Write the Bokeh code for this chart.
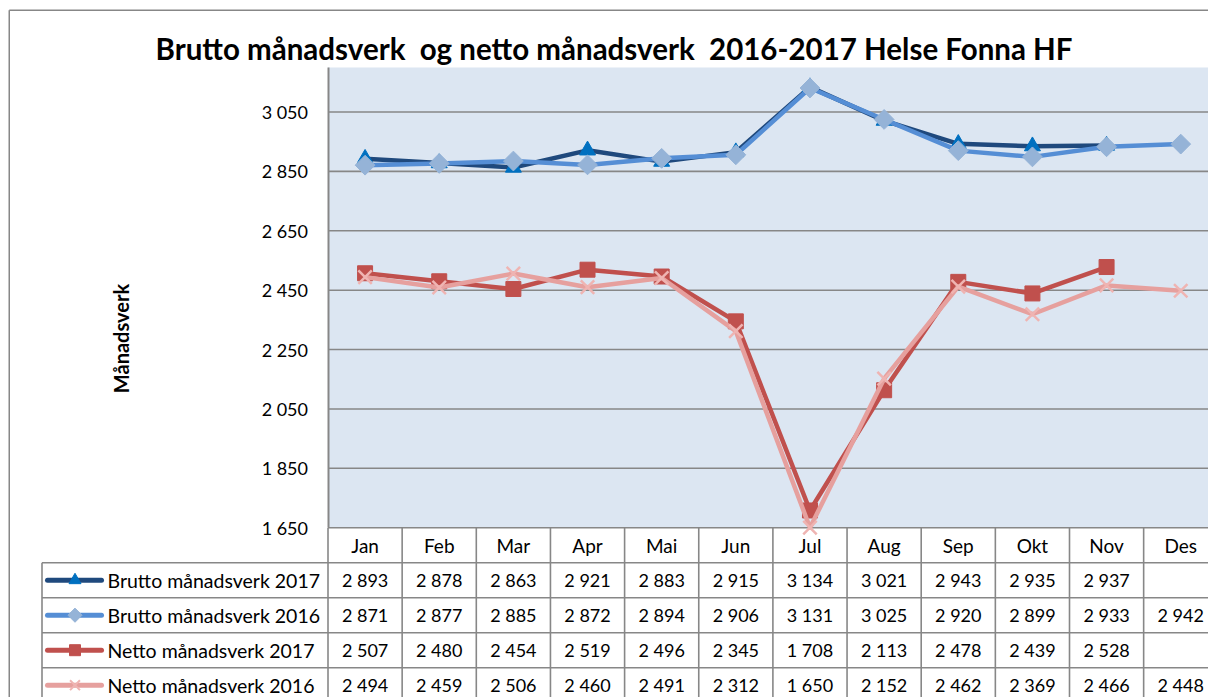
import math
import numpy as np
from bokeh.plotting import figure
from bokeh.models import Range1d, FixedTicker, LinearAxis
from bokeh.core.properties import value
from bokeh.embed import file_html
from bokeh.resources import INLINE

# ---------------- data ----------------
months = ["Jan", "Feb", "Mar", "Apr", "Mai", "Jun", "Jul", "Aug", "Sep", "Okt", "Nov", "Des"]
brutto_2017 = [2893, 2878, 2863, 2921, 2883, 2915, 3134, 3021, 2943, 2935, 2937, None]
brutto_2016 = [2871, 2877, 2885, 2872, 2894, 2906, 3131, 3025, 2920, 2899, 2933, 2942]
netto_2017 = [2507, 2480, 2454, 2519, 2496, 2345, 1708, 2113, 2478, 2439, 2528, None]
netto_2016 = [2494, 2459, 2506, 2460, 2491, 2312, 1650, 2152, 2462, 2369, 2466, 2448]
series_names = ["Brutto månadsverk 2017", "Brutto månadsverk 2016",
                "Netto månadsverk 2017", "Netto månadsverk 2016"]
y_ticks = [1650, 1850, 2050, 2250, 2450, 2650, 2850, 3050]
y_min, y_max = 1650, 3200
# double spaces kept visible in SVG with a no-break space
title_text = "Brutto månadsverk \u00a0og netto månadsverk \u00a02016-2017 Helse Fonna HF"
y_title = "Månadsverk"

# ---------------- layout / styles ----------------
FONT = "Lato"
GRAY = "#878787"
W, H = 1208, 697
PLOT_LEFT = 327.5      # page x of plot-area left edge
PLOT_TOP = 67.0        # page y of value y_max
PLOT_BOT = 527.2       # page y of value y_min
CW = 74.15             # width of one month column
RH = 35.0              # table row height
TABLE_LEFT = 41.5      # left edge of legend column

styles = [
    dict(line="#1F497D", marker="triangle", mfill="#0070C0", msize=16, angle=0.0),
    dict(line="#558ED5", marker="square", mfill="#95B3D7", msize=14, angle=math.pi / 4),
    dict(line="#C0504D", marker="square", mfill="#C0504D", msize=15, angle=0.0),
    dict(line="#E6A09E", marker="x", mfill="#EFB4B2", msize=19, angle=0.0),
]
series = [brutto_2017, brutto_2016, netto_2017, netto_2016]


def fmt(v):
    return "" if v is None else f"{v:,}".replace(",", " ")


k = (PLOT_BOT - PLOT_TOP) / (y_max - y_min)          # px per value unit
x_start = -PLOT_LEFT / CW
x_end = (W - PLOT_LEFT) / CW
y_start = y_min - (H - PLOT_BOT) / k
y_end = y_max + PLOT_TOP / k

p = figure(width=W, height=H, x_range=Range1d(x_start, x_end), y_range=Range1d(y_start, y_end),
           output_backend="svg", toolbar_location=None, x_axis_location=None,
           y_axis_location=None, min_border=0, outline_line_color=None,
           background_fill_color="white", border_fill_color="white")
p.extra_x_ranges = {"px": Range1d(0, W)}
p.extra_y_ranges = {"px": Range1d(H, 0)}
p.grid.visible = False

x_pos = [i + 0.5 for i in range(len(months))]

# plot area background
p.quad(left=[0], right=[x_end], bottom=[y_min], top=[y_max], fill_color="#DCE6F2",
       line_color=None)
# horizontal gridlines at the ticks
p.segment(x0=[0] * len(y_ticks), x1=[x_end] * len(y_ticks), y0=y_ticks, y1=y_ticks,
          line_color=GRAY, line_width=1.6)

# y axis
ax = LinearAxis(fixed_location=0, ticker=FixedTicker(ticks=y_ticks), bounds=(y_min, y_max))
ax.major_label_overrides = {t: fmt(t) for t in y_ticks}
ax.major_tick_in = 0
ax.major_tick_out = 0
ax.minor_tick_line_color = None
ax.axis_line_color = GRAY
ax.axis_line_width = 2
ax.major_label_standoff = 20
ax.major_label_text_font = FONT
ax.major_label_text_font_size = "18px"
ax.major_label_text_color = "black"
p.add_layout(ax, "left")

# series
for vals, st in zip(series, styles):
    yv = [np.nan if v is None else v for v in vals]
    p.line(x_pos, yv, line_color=st["line"], line_width=4.5, line_join="round")
    xs = [x for x, v in zip(x_pos, vals) if v is not None]
    ys = [v for v in vals if v is not None]
    if st["marker"] == "x":
        p.scatter(xs, ys, marker="x", size=st["msize"], line_color=st["mfill"], line_width=2.5)
    else:
        p.scatter(xs, ys, marker=st["marker"], size=st["msize"], angle=st["angle"],
                  fill_color=st["mfill"], line_color=st["mfill"])

# title and axis title
p.text(x=[613.5], y=[48], text=[title_text], x_range_name="px", y_range_name="px",
       text_align="center", text_baseline="middle", text_font=value(FONT),
       text_font_style="bold", text_font_size="29.5px", text_color="black")
p.text(x=[120], y=[338], text=[y_title], x_range_name="px", y_range_name="px",
       angle=math.pi / 2, text_align="center", text_baseline="middle",
       text_font=value(FONT), text_font_style="bold", text_font_size="20px",
       text_color="black")

# outer chart border
p.segment(x0=[8.75, 8.75], y0=[9.75, 9.75], x1=[8.75, W], y1=[H, 9.75],
          x_range_name="px", y_range_name="px", line_color=GRAY, line_width=1.5)

# ---------------- data table ----------------
row_lines = [PLOT_BOT + RH * (i + 1) for i in range(4)]
left_x = (TABLE_LEFT - PLOT_LEFT) / CW
# horizontal row lines (y in page px)
p.segment(x0=[left_x] * 4, x1=[x_end] * 4, y0=row_lines, y1=row_lines, y_range_name="px",
          line_color=GRAY, line_width=1.6)
# vertical column lines
p.segment(x0=list(range(13)), x1=list(range(13)), y0=[PLOT_BOT] * 13, y1=[H] * 13,
          y_range_name="px", line_color=GRAY, line_width=1.6)
p.segment(x0=[left_x], x1=[left_x], y0=[row_lines[0]], y1=[H], y_range_name="px",
          line_color=GRAY, line_width=1.6)

# header
p.text(x=x_pos, y=[(PLOT_BOT + row_lines[0]) / 2] * 12, text=months, y_range_name="px",
       text_align="center", text_baseline="middle", text_font=value(FONT),
       text_font_size="19px", text_color="black")

for i, (vals, st, name) in enumerate(zip(series, styles, series_names)):
    yc = row_lines[0] + RH * (i + 0.5)
    p.text(x=x_pos, y=[yc] * 12, text=[fmt(v) for v in vals], y_range_name="px",
           text_align="center", text_baseline="middle", text_font=value(FONT),
           text_font_size="18px", text_color="black")
    p.segment(x0=[47], x1=[101], y0=[yc], y1=[yc], x_range_name="px", y_range_name="px",
              line_color=st["line"], line_width=5, line_cap="round")
    if st["marker"] == "x":
        p.scatter([74.5], [yc], x_range_name="px", y_range_name="px", marker="x",
                  size=st["msize"] - 5, line_color=st["mfill"], line_width=2)
    else:
        p.scatter([74.5], [yc], x_range_name="px", y_range_name="px", marker=st["marker"],
                  size=st["msize"] - 4, angle=st["angle"], fill_color=st["mfill"],
                  line_color=st["mfill"])
    p.text(x=[107], y=[yc], text=[name], x_range_name="px", y_range_name="px",
           text_align="left", text_baseline="middle", text_font=value(FONT),
           text_font_size="19.5px", text_color="black")

open("out.html", "w").write(file_html(p, INLINE))
